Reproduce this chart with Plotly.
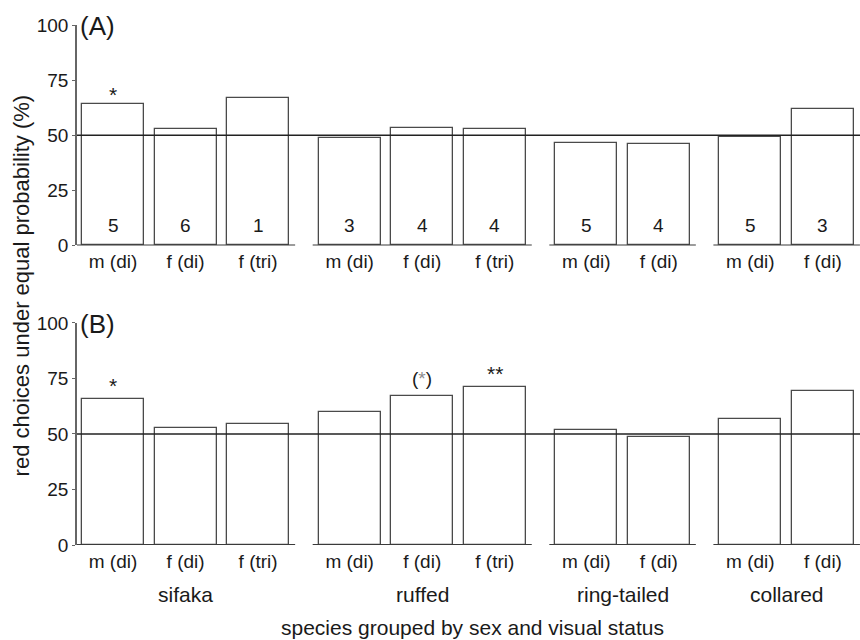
import plotly.graph_objects as go

# Species groups and the sex / visual-status classes inside each group
species = ["sifaka", "ruffed", "ring-tailed", "collared"]
classes = [
    ["m (di)", "f (di)", "f (tri)"],
    ["m (di)", "f (di)", "f (tri)"],
    ["m (di)", "f (di)"],
    ["m (di)", "f (di)"],
]

# Panel A: red choices under equal probability (%) and sample sizes
pct_a = [64.0, 53.0, 67.0, 48.7, 53.5, 52.8, 46.7, 46.1, 49.2, 61.7]
n_a = [5, 6, 1, 3, 4, 4, 5, 4, 5, 3]
sig_a = ["*", "", "", "", "", "", "", "", "", ""]

# Panel B: red choices under equal probability (%)
pct_b = [65.9, 52.7, 54.5, 59.9, 67.3, 71.3, 51.9, 48.5, 56.9, 69.5]
sig_b = ["*", "", "", "", "(*)", "**", "", "", "", ""]

y_ticks = [0, 25, 50, 75, 100]
reference_level = 50

FONT = "Liberation Sans, Arial, sans-serif"
TXT = "#1a1a1a"
GROUP_GAP = 0.262
BAR_W = 0.855

# x positions: one unit per bar with an extra gap between species groups
pos, labels, group_ranges = [], [], []
x = 0.0
for g, cls in enumerate(classes):
    start = x
    for c in cls:
        pos.append(x)
        labels.append(c)
        x += 1
    group_ranges.append((start, x - 1))
    x += GROUP_GAP

x_range = [-0.497, pos[-1] + 0.511]

fig = go.Figure()

panels = [
    ("x", "y", pct_a, sig_a, "(A)", -1.8),
    ("x2", "y2", pct_b, sig_b, "(B)", 0.0),
]

for xa, ya, vals, sigs, tag, star_dy in panels:
    fig.add_trace(go.Bar(
        x=pos, y=vals, width=BAR_W, xaxis=xa, yaxis=ya,
        marker=dict(color="white", line=dict(color="#4a4a4a", width=1.3)),
        hoverinfo="skip", showlegend=False,
    ))
    # significance markers above bars
    for p, v, s in zip(pos, vals, sigs):
        if not s:
            continue
        if s == "(*)":
            txt = "(<span style='color:#8c8c8c'>*</span>)"
            size, dy = 19, 2.2
        else:
            txt, size, dy = s, 21, star_dy
        fig.add_annotation(
            x=p, y=v + dy, xref=xa, yref=ya, text=txt, showarrow=False,
            yanchor="bottom", font=dict(family=FONT, size=size, color=TXT),
        )
    # reference line at chance level
    fig.add_shape(
        type="line", xref=xa, yref=ya, x0=x_range[0], x1=x_range[1],
        y0=reference_level, y1=reference_level, layer="above",
        line=dict(color="#222222", width=1.5),
    )
    # broken baseline under each species group
    for a, b in group_ranges:
        fig.add_shape(
            type="line", xref=xa, yref=ya,
            x0=max(a - 0.51, x_range[0]), x1=min(b + 0.51, x_range[1]),
            y0=0, y1=0, layer="above",
            line=dict(color="#3a3a3a", width=2),
        )
    fig.add_annotation(
        x=0.001, xref=("x domain" if xa == "x" else "x2 domain"),
        y=99.5, yref=ya, text=tag, showarrow=False,
        xanchor="left", yanchor="middle",
        font=dict(family=FONT, size=26, color=TXT),
    )

# sample sizes inside panel A bars
for p, n in zip(pos, n_a):
    fig.add_annotation(
        x=p, y=9, xref="x", yref="y", text=str(n), showarrow=False,
        yanchor="middle", font=dict(family=FONT, size=19, color=TXT),
    )

# species names under panel B
for name, (a, b) in zip(species, group_ranges):
    fig.add_annotation(
        x=(a + b) / 2, y=-0.095, xref="x2", yref="paper", text=name,
        showarrow=False, yanchor="middle",
        font=dict(family=FONT, size=21, color=TXT),
    )

fig.add_annotation(
    x=0.505, y=-0.159, xref="paper", yref="paper",
    text="species grouped by sex and visual status", showarrow=False,
    yanchor="middle", font=dict(family=FONT, size=21, color=TXT),
)
fig.add_annotation(
    x=-0.071, y=0.5, xref="paper", yref="paper", textangle=-90,
    text="red choices under equal probability (%)", showarrow=False,
    xanchor="center", yanchor="middle",
    font=dict(family=FONT, size=22, color=TXT),
)

xaxis_common = dict(
    range=x_range, tickvals=pos, ticktext=labels, showline=False,
    ticks="", showgrid=False, zeroline=False, fixedrange=True,
    ticklabelstandoff=3,
    tickfont=dict(family=FONT, size=19, color=TXT),
)
yaxis_common = dict(
    range=[0, 100], tickvals=y_ticks, ticks="outside", ticklen=3,
    tickcolor="#666666", showline=True, linecolor="#666666", linewidth=1.5,
    showgrid=False, zeroline=False, fixedrange=True,
    ticklabelstandoff=0,
    tickfont=dict(family=FONT, size=19, color=TXT),
)

fig.update_layout(
    width=860, height=640,
    margin=dict(l=77, r=0, t=25, b=95),
    paper_bgcolor="white", plot_bgcolor="white",
    bargap=0, showlegend=False,
    xaxis=dict(domain=[0, 1], anchor="y", **xaxis_common),
    yaxis=dict(domain=[0.576, 1], anchor="x", **yaxis_common),
    xaxis2=dict(domain=[0, 1], anchor="y2", **xaxis_common),
    yaxis2=dict(domain=[0, 0.427], anchor="x2", **yaxis_common),
)

fig.write_html("out.html")
